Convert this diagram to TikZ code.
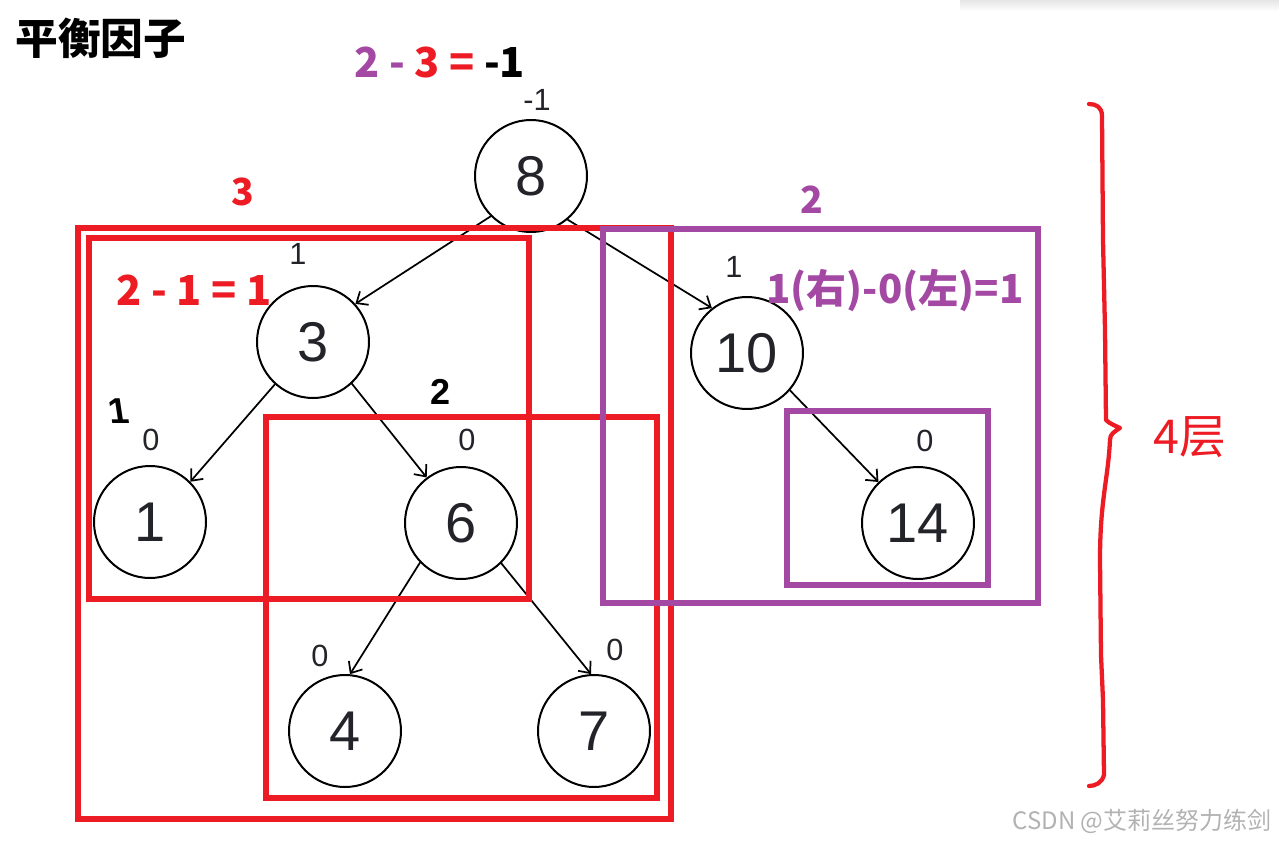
\documentclass[tikz,border=0pt]{standalone}
\usepackage{fontspec}
\setmainfont{Liberation Sans}
\newfontfamily\cjk{Noto Sans CJK SC}
\usetikzlibrary{arrows.meta}
\definecolor{pred}{RGB}{237,28,36}
\definecolor{ppur}{RGB}{163,73,164}
\definecolor{numcol}{RGB}{35,35,42}
\begin{document}
\begin{tikzpicture}[x=0.75pt,y=-0.75pt,line join=round,line cap=round,>={Straight Barb[length=7pt,width=12pt]}]
	\tikzset{every node/.style={inner sep=0pt},
		tnode/.style={circle,draw,line width=1.5pt,minimum size=84pt,text=numcol,font=\fontsize{42}{42}\selectfont},
		bal/.style={text=numcol,font=\fontsize{23}{23}\selectfont},
		edge/.style={->,line width=1.3pt},
		redbox/.style={draw=pred,line width=3.8pt,line cap=butt,line join=miter},
		purbox/.style={draw=ppur,line width=3.8pt,line cap=butt,line join=miter},
		lab/.style={font=\cjk\bfseries\fontsize{31}{31}\selectfont},
		hand/.style={font=\bfseries\fontsize{27}{27}\selectfont}}
	\useasboundingbox (0,0) rectangle (1279,842);
	\shade[top color=black!10,bottom color=white] (960,0) rectangle (1279,11);
	% tree
	\foreach \n/\x/\y in {8/531/176,3/313/342,10/747/353,1/150/522,6/461/523,14/918/523,4/345/731,7/594/731}
		\node[tnode] (n\n) at (\x,\y) {\n};
	\foreach \n/\x/\y/\b in {8/537/100/-1,3/298/254/1,10/734/267/1,1/151/440/0,6/467/440/0,14/925/441/0,4/320/656/0,7/615/650/0}
		\node[bal] (b\n) at (\x,\y) {\b};
	\foreach \a/\s/\b/\e in {8/225/3/42,8/-50/10/128,3/228/1/45,3/-47/6/127,6/224/4/85,6/-45/7/93,10/-41/14/134}
		\draw[edge] (n\a.\s) -- (n\b.\e);
	% subtrees
	\draw[redbox] (78,228) rectangle (671,819);
	\draw[redbox] (89,238) rectangle (529,599);
	\draw[redbox] (266,417) rectangle (657,798);
	\draw[purbox] (603,229) rectangle (1038,603);
	\draw[purbox] (787,411) rectangle (988,585);
	% labels
	\node[font=\cjk\bfseries\fontsize{32}{32}\selectfont] (title) at (101,38) {平衡因子};
	\node[lab] (root) at (440,62) {\color{ppur}2 - \color{pred}3 = \color{black}-1};
	\node[lab,text=pred,font=\cjk\bfseries\fontsize{28}{28}\selectfont] (hl) at (243,192) {3};
	\node[lab,text=ppur,font=\cjk\bfseries\fontsize{28}{28}\selectfont] (hr) at (812,200) {2};
	\node[lab,text=pred] (fl) at (194,290) {2 - 1 = 1};
	\node[lab,text=ppur,font=\cjk\bfseries\fontsize{30}{30}\selectfont] (fr) at (895,290) {1(右)-0(左)=1};
	\node[hand,xslant=-0.15] (h1) at (119,411) {1};
	\node[hand] (h2) at (441,392) {2};
	% height
	\draw[pred,line width=3.2pt] (1089,104) .. controls (1096,104) and (1102,107) .. (1102,116)
		-- (1103,240) -- (1105,330) -- (1106,420) .. controls (1110,424) and (1116,426) .. (1120,428)
		.. controls (1114,432) and (1110,434) .. (1110,440) .. controls (1108,480) and (1100,500) .. (1100,560)
		-- (1101,655) -- (1103,700) -- (1104,775) .. controls (1102,783) and (1095,786) .. (1089,786);
	\node[text=pred,font=\cjk\fontsize{35}{35}\selectfont] (lv) at (1190,437) {4层};
	\node[text=black!30,font=\cjk\fontsize{18}{18}\selectfont] (wm) at (1142,821) {CSDN @艾莉丝努力练剑};
\end{tikzpicture}
\end{document}
